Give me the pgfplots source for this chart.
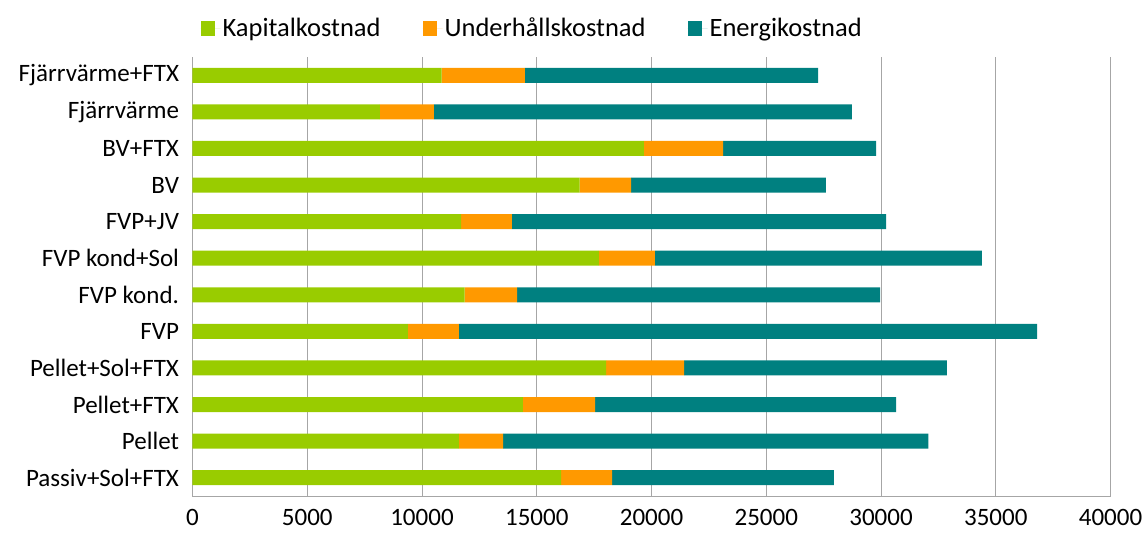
\documentclass[border=0pt]{standalone}
\usepackage{fontspec}
\setmainfont{Carlito}
\usepackage{pgfplots}
\pgfplotsset{compat=1.18}
\definecolor{cgreen}{HTML}{99CC00}
\definecolor{corange}{HTML}{FF9900}
\definecolor{cteal}{HTML}{008080}
\definecolor{cgrid}{HTML}{A6A6A6}
\begin{document}
\begin{tikzpicture}
\useasboundingbox (-192.5pt,-51pt) rectangle (954.5pt,496pt);
\begin{axis}[
  at={(0pt,0pt)}, anchor=south west,
  scale only axis,
  width=918pt, height=439pt,
  xbar stacked,
  bar width=15pt,
  xmin=0, xmax=40000,
  ymin=-0.5, ymax=11.5,
  xtick={0,5000,...,40000},
  scaled x ticks=false,
  ytick={0,...,11},
  yticklabels={Passiv+Sol+FTX,Pellet,Pellet+FTX,Pellet+Sol+FTX,FVP,FVP kond.,FVP kond+Sol,FVP+JV,BV,BV+FTX,Fjärrvärme,Fjärrvärme+FTX},
  minor ytick={-0.5,0.5,...,11.5},
  axis x line*=bottom,
  axis y line*=left,
  axis line style={cgrid, line width=1pt},
  xmajorgrids,
  major grid style={cgrid, line width=1pt},
  major tick length=0pt,
  minor tick length=7pt,
  xtick style={draw=none},
  ytick style={draw=none},
  minor tick style={cgrid, line width=1pt},
  extra x ticks={0,5000,...,40000},
  extra x tick labels={},
  extra x tick style={major tick length=8pt, tick style={draw=cgrid, line width=1pt}, tick align=outside, grid=none},
  tick align=outside,
  /pgf/number format/1000 sep={},
  /pgf/number format/assume math mode=true,
  tick label style={font=\fontsize{25}{30}\selectfont},
  xticklabel style={yshift=-10pt},
  yticklabel style={xshift=-10pt},
  legend style={at={(0.37,1.066)}, anchor=center, draw=none, fill=none,
    font=\fontsize{26.5}{31}\selectfont, legend columns=3,
    /tikz/every even column/.append style={column sep=40pt}},
  legend cell align=left,
  legend image code/.code={\path (0pt,0pt) -- (20pt,0pt); \fill[#1] (0pt,-7.5pt) rectangle (14pt,7.5pt);},
  every axis plot/.append style={draw=none},
]
\addplot[fill=cgreen] coordinates {(16060,0) (11610,1) (14400,2) (18020,3) (9380,4) (11860,5) (17710,6) (11700,7) (16870,8) (19670,9) (8160,10) (10860,11)};
\addplot[fill=corange] coordinates {(2220,0) (1930,1) (3140,2) (3400,3) (2230,4) (2280,5) (2440,6) (2220,7) (2240,8) (3450,9) (2360,10) (3620,11)};
\addplot[fill=cteal] coordinates {(9670,0) (18520,1) (13120,2) (11450,3) (25190,4) (15820,5) (14250,6) (16300,7) (8490,8) (6670,9) (18210,10) (12780,11)};
\legend{Kapitalkostnad,Underhållskostnad,Energikostnad}
\end{axis}
\end{tikzpicture}
\end{document}
